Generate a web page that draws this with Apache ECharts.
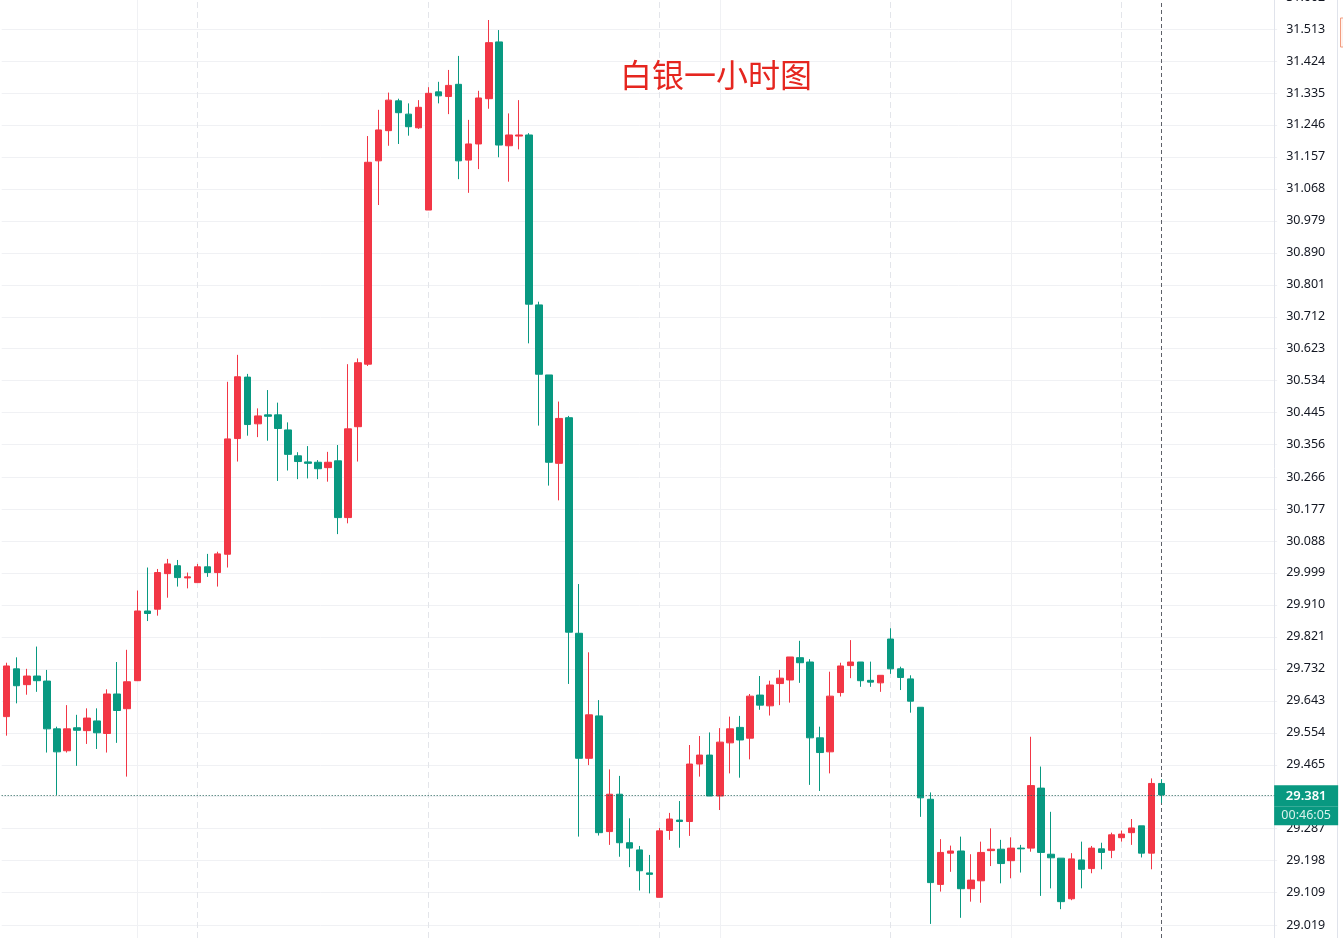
<!DOCTYPE html>
<html><head><meta charset="utf-8">
<script src="https://cdn.jsdelivr.net/npm/echarts@6/dist/echarts.min.js"></script>
<style>html,body{margin:0;padding:0;background:#fff;overflow:hidden}#c{width:1343px;height:938px}</style>
</head><body><div id="c"></div>
<script>
const chartTitle = '白银一小时图';
const opens = [29.599,29.732,29.688,29.712,29.698,29.565,29.504,29.568,29.560,29.587,
29.552,29.662,29.621,29.699,29.893,29.898,29.997,30.019,29.985,29.972,
30.016,30.000,30.051,30.373,30.544,30.414,30.439,30.439,30.397,30.325,
30.308,30.307,30.292,30.311,30.153,30.406,30.580,31.146,31.230,31.313,
31.276,31.238,31.009,31.338,31.325,31.359,31.148,31.193,31.319,31.477,
31.188,31.215,31.218,30.745,30.550,30.304,30.431,29.831,29.483,29.601,
29.279,29.383,29.248,29.228,29.164,29.096,29.282,29.311,29.307,29.467,
29.492,29.378,29.526,29.569,29.539,29.659,29.629,29.691,29.701,29.763,
29.751,29.540,29.501,29.666,29.741,29.751,29.700,29.693,29.815,29.732,
29.704,29.625,29.369,29.132,29.219,29.225,29.120,29.142,29.226,29.230,
29.198,29.233,29.233,29.400,29.216,29.205,29.092,29.200,29.176,29.231,
29.227,29.262,29.276,29.295,29.219,29.413];
const closes = [29.740,29.685,29.712,29.699,29.565,29.501,29.565,29.561,29.595,29.554,
29.662,29.616,29.696,29.893,29.886,30.000,30.024,29.986,29.988,30.016,
30.000,30.052,30.372,30.545,30.412,30.436,30.435,30.401,30.329,30.309,
30.304,30.289,30.307,30.153,30.400,30.584,31.142,31.232,31.315,31.280,
31.241,31.295,31.334,31.327,31.356,31.146,31.193,31.321,31.475,31.190,
31.218,31.218,30.747,30.552,30.307,30.429,29.834,29.483,29.604,29.276,
29.383,29.248,29.233,29.170,29.160,29.281,29.314,29.307,29.467,29.492,
29.378,29.528,29.565,29.534,29.656,29.631,29.687,29.706,29.765,29.749,
29.540,29.499,29.656,29.740,29.751,29.699,29.695,29.714,29.732,29.708,
29.642,29.373,29.137,29.221,29.225,29.120,29.144,29.221,29.230,29.190,
29.233,29.231,29.407,29.221,29.206,29.084,29.203,29.174,29.233,29.221,
29.270,29.272,29.289,29.219,29.413,29.381];
const lows = [29.546,29.636,29.660,29.668,29.499,29.381,29.499,29.462,29.523,29.509,
29.499,29.526,29.432,29.698,29.865,29.880,29.930,29.961,29.956,29.971,
29.988,29.961,30.014,30.309,30.381,30.377,30.367,30.255,30.284,30.260,
30.262,30.260,30.253,30.107,30.137,30.309,30.575,31.023,31.188,31.193,
31.216,31.235,31.009,31.306,31.276,31.095,31.057,31.123,31.291,31.156,
31.088,31.178,30.638,30.409,30.242,30.201,29.690,29.265,29.464,29.268,
29.242,29.209,29.180,29.115,29.107,29.096,29.256,29.234,29.267,29.432,
29.378,29.339,29.441,29.429,29.480,29.618,29.602,29.631,29.638,29.693,
29.409,29.392,29.441,29.655,29.706,29.682,29.682,29.668,29.718,29.673,
29.610,29.320,29.022,29.112,29.167,29.039,29.084,29.081,29.183,29.135,
29.149,29.165,29.223,29.100,29.121,29.063,29.088,29.121,29.163,29.174,
29.205,29.251,29.242,29.207,29.174,29.359];
const highs = [29.749,29.764,29.732,29.794,29.729,29.571,29.631,29.604,29.622,29.622,
29.675,29.751,29.785,29.950,30.014,30.010,30.038,30.035,30.000,30.024,
30.052,30.058,30.531,30.606,30.553,30.457,30.508,30.473,30.418,30.335,
30.352,30.313,30.336,30.355,30.580,30.596,31.215,31.288,31.336,31.319,
31.306,31.315,31.351,31.366,31.399,31.438,31.260,31.341,31.538,31.510,
31.278,31.315,31.223,30.754,30.550,30.476,30.436,29.968,29.778,29.645,
29.452,29.434,29.316,29.239,29.214,29.289,29.331,29.364,29.520,29.545,
29.555,29.567,29.599,29.601,29.662,29.712,29.699,29.729,29.765,29.810,
29.759,29.571,29.724,29.749,29.812,29.751,29.752,29.714,29.845,29.738,
29.714,29.625,29.388,29.258,29.240,29.265,29.216,29.251,29.288,29.256,
29.263,29.242,29.543,29.460,29.334,29.205,29.219,29.251,29.239,29.248,
29.276,29.282,29.314,29.295,29.427,29.425];
const tickLabels = ['29.019','29.109','29.198','29.287','29.376','29.465','29.554','29.643','29.732','29.821',
'29.910','29.999','30.088','30.177','30.266','30.356','30.445','30.534','30.623','30.712',
'30.801','30.890','30.979','31.068','31.157','31.246','31.335','31.424','31.513','31.602'];
const solidGridIdx = [13, 71, 100];
const dashedGridIdx = [19, 42, 65, 88, 111];
const nowIdx = 115;
const lastPrice = 29.381;
const countdown = '00:46:05';
const emptySlots = 11;

const nSlots = opens.length + emptySlots;
const categories = Array.from({length: nSlots}, (_, i) => String(i));
const ohlc = categories.map((c, i) => i < opens.length ? [opens[i], closes[i], lows[i], highs[i]] : '-');
const tickValues = tickLabels.map(Number);

const UP = '#f23645', DOWN = '#089981';
const slotW = 10.043;

const gridLines = []
  .concat(solidGridIdx.map(i => ({xAxis: String(i), lineStyle: {type: 'solid', color: '#f0f1f4', width: 1}})))
  .concat(dashedGridIdx.map(i => ({xAxis: String(i), lineStyle: {type: [6, 4], color: '#e3e5ea', width: 1}})))
  .concat([{xAxis: String(nowIdx), lineStyle: {type: [4, 3], color: '#5d6068', width: 1}}]);

const chart = echarts.init(document.getElementById('c'), null, {renderer: 'canvas'});
chart.setOption({
  animation: false,
  backgroundColor: '#ffffff',
  title: {
    text: chartTitle, left: 615, top: 54,
    textStyle: {fontSize: 32, fontWeight: 'normal', color: '#e5261f', fontFamily: 'Noto Sans CJK SC'}
  },
  grid: {left: 1.68, top: -6, width: nSlots * slotW, height: 944, containLabel: false, outerBoundsMode: 'none'},
  xAxis: {
    type: 'category', data: categories, boundaryGap: true,
    axisLine: {show: false}, axisTick: {show: false}, axisLabel: {show: false}, splitLine: {show: false}
  },
  yAxis: {
    type: 'value', position: 'right', offset: -3, scale: true,
    min: 28.9828, max: 31.6104,
    axisLine: {show: true, lineStyle: {color: '#e0e3eb'}},
    axisTick: {show: false, customValues: tickValues},
    axisLabel: {
      customValues: tickValues, margin: 12, color: '#131722', fontSize: 12.5, fontFamily: 'Noto Sans',
      formatter: v => v.toFixed(3)
    },
    splitLine: {show: true, lineStyle: {color: '#f0f1f4', width: 1}}
  },
  graphic: [
    {type: 'line', shape: {x1: 1337.5, y1: 0, x2: 1337.5, y2: 938}, style: {stroke: '#e0e3eb', lineWidth: 1}, silent: true},
    {type: 'rect', shape: {x: 1340.5, y: 18, width: 6, height: 29}, style: {fill: '#fff3ee', stroke: '#f29c7f', lineWidth: 1}, silent: true}
  ],
  series: [
    {
      type: 'line', data: [], silent: true, z: 1,
      markLine: {silent: true, z: 1, symbol: 'none', animation: false, label: {show: false}, data: gridLines}
    },
    {
      type: 'candlestick', data: ohlc, barWidth: 7, z: 2, clip: false,
      itemStyle: {color: UP, color0: DOWN, borderColor: UP, borderColor0: DOWN, borderWidth: 1},
      markLine: {
        silent: true, symbol: 'none', animation: false, z: 5,
        lineStyle: {type: [1, 2], color: '#1f5f55', width: 1},
        label: {
          show: true, position: 'end', distance: -3,
          formatter: '{h|' + lastPrice.toFixed(3) + '}\n{a|' + lastPrice.toFixed(3) + '}\n{b|' + countdown + '}',
          rich: {
            h: {width: 64, height: 20, lineHeight: 20, color: 'rgba(0,0,0,0)', align: 'center', fontSize: 13},
            a: {width: 64, height: 21, lineHeight: 21, backgroundColor: DOWN, color: '#ffffff', fontSize: 13, fontWeight: 600, align: 'center', fontFamily: 'Noto Sans'},
            b: {width: 64, height: 19, lineHeight: 19, backgroundColor: DOWN, color: '#d9f2ec', fontSize: 12.5, align: 'center', fontFamily: 'Noto Sans'}
          }
        },
        data: [{yAxis: lastPrice}]
      }
    }
  ]
});
</script></body></html>
